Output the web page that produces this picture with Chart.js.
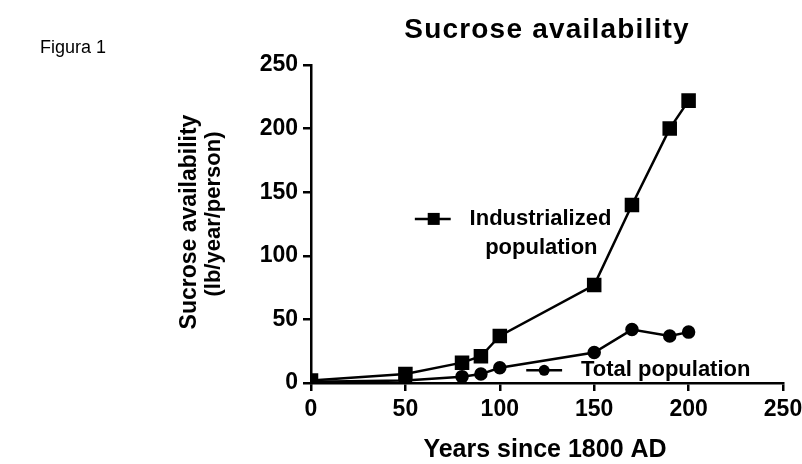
<!DOCTYPE html>
<html>
<head>
<meta charset="utf-8">
<script src="https://cdn.jsdelivr.net/npm/chart.js@4/dist/chart.umd.min.js"></script>
<style>
  html, body { margin: 0; padding: 0; background: #fff; }
  #wrap { width: 802px; height: 464px; position: relative; }
</style>
</head>
<body>
<div id="wrap"><canvas id="chart" width="802" height="464"></canvas></div>
<script>
// data
const years = [0, 50, 80, 90, 100, 150, 170, 190, 200];
const industrialized = [2, 7, 16, 21, 37, 77, 140, 200, 222];
const totalPop = [1, 2, 5, 7, 12, 24, 42, 37, 40];
const xTicks = [0, 50, 100, 150, 200, 250];
const yTicks = [0, 50, 100, 150, 200, 250];

const FONT = '"Liberation Sans", Arial, sans-serif';

function toPoints(xs, ys) {
    return xs.map((x, i) => ({ x: x, y: ys[i] }));
}

// draws title, axis titles and the inline legends
const textPlugin = {
    id: 'texts',
    afterDraw(chart) {
        const ctx = chart.ctx;
        const xs = chart.scales.x;
        const ys = chart.scales.y;
        ctx.save();
        ctx.fillStyle = '#000';
        ctx.textBaseline = 'middle';

        ctx.font = '18px ' + FONT;
        ctx.textAlign = 'left';
        ctx.fillText('Figura 1', 40, 48);

        ctx.font = 'bold 28px ' + FONT;
        ctx.textAlign = 'center';
        ctx.letterSpacing = '1.2px';
        ctx.fillText('Sucrose availability', 547, 30);
        ctx.letterSpacing = '0px';

        ctx.font = 'bold 25px ' + FONT;
        ctx.fillText('Years since 1800 AD', 545, 450);

        ctx.save();
        ctx.translate(190, 222);
        ctx.rotate(-Math.PI / 2);
        ctx.font = 'bold 23px ' + FONT;
        ctx.fillText('Sucrose availability', 0, 0);
        ctx.font = 'bold 22px ' + FONT;
        ctx.fillText('(lb/year/person)', 8, 24);
        ctx.restore();

        // legend for industrialized
        ctx.lineWidth = 2.5;
        ctx.strokeStyle = '#000';
        let ly = ys.getPixelForValue(129);
        ctx.beginPath();
        ctx.moveTo(xs.getPixelForValue(55), ly);
        ctx.lineTo(xs.getPixelForValue(74), ly);
        ctx.stroke();
        let mx = xs.getPixelForValue(65);
        ctx.fillRect(mx - 6, ly - 6, 12, 12);
        ctx.font = 'bold 22px ' + FONT;
        ctx.textAlign = 'left';
        ctx.fillText('Industrialized', xs.getPixelForValue(84), ly);
        ctx.textAlign = 'center';
        ctx.fillText('population', xs.getPixelForValue(122), ys.getPixelForValue(106));

        // legend for total
        ly = ys.getPixelForValue(10);
        ctx.beginPath();
        ctx.moveTo(xs.getPixelForValue(114), ly);
        ctx.lineTo(xs.getPixelForValue(133), ly);
        ctx.stroke();
        mx = xs.getPixelForValue(123.5);
        ctx.beginPath();
        ctx.arc(mx, ly, 5.5, 0, Math.PI * 2);
        ctx.fill();
        ctx.textAlign = 'left';
        ctx.fillText('Total population', xs.getPixelForValue(143), ly);

        ctx.restore();
    }
};

const axisStyle = {
    border: { display: true, color: '#000', width: 2.5 },
    grid: { display: true, drawOnChartArea: false, drawTicks: true, tickLength: 8, color: '#000', lineWidth: 2.5 },
    ticks: { color: '#000', font: { family: FONT, weight: 'bold', size: 23 }, padding: 5 }
};

new Chart(document.getElementById('chart'), {
    type: 'scatter',
    data: {
        datasets: [
            {
                label: 'Industrialized population',
                data: toPoints(years, industrialized),
                showLine: true,
                borderColor: '#000',
                backgroundColor: '#000',
                borderWidth: 2.5,
                pointStyle: 'rect',
                pointRadius: 8.5,
                pointHoverRadius: 8.5
            },
            {
                label: 'Total population',
                data: toPoints(years, totalPop),
                showLine: true,
                borderColor: '#000',
                backgroundColor: '#000',
                borderWidth: 2.5,
                pointStyle: 'circle',
                pointRadius: 5.5,
                pointHoverRadius: 5.5
            }
        ]
    },
    options: {
        responsive: false,
        animation: false,
        events: [],
        layout: { padding: { left: 0, right: 19, top: 65, bottom: 0 } },
        plugins: { legend: { display: false }, tooltip: { enabled: false } },
        scales: {
            x: {
                type: 'linear',
                min: 0,
                max: 250,
                ...axisStyle,
                afterBuildTicks(scale) { scale.ticks = xTicks.map(v => ({ value: v })); },
                afterFit(scale) {
                    scale.height = 81;
                    scale.paddingLeft = 0;
                    scale.paddingRight = 0;
                }
            },
            y: {
                type: 'linear',
                min: 0,
                max: 250,
                ...axisStyle,
                afterBuildTicks(scale) { scale.ticks = yTicks.map(v => ({ value: v })); },
                afterFit(scale) {
                    scale.width = 311;
                    scale.paddingTop = 0;
                    scale.paddingBottom = 0;
                }
            }
        }
    },
    plugins: [textPlugin]
});
</script>
</body>
</html>
